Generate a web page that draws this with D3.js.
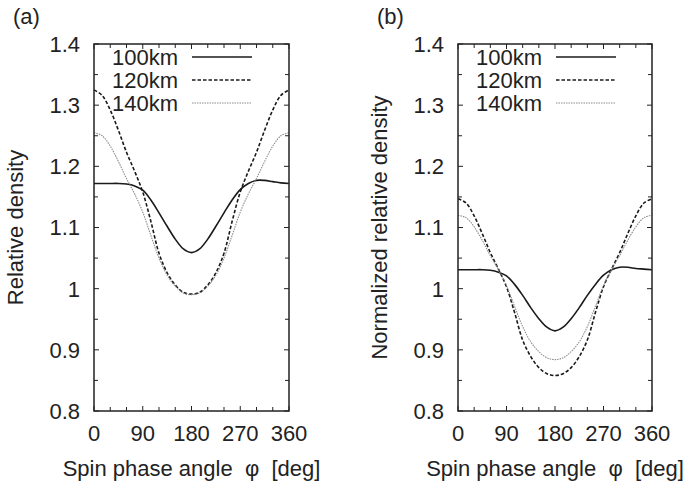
<!DOCTYPE html>
<html lang="en">
<head>
<meta charset="UTF-8">
<title>Relative density vs spin phase angle</title>
<script src="https://d3js.org/d3.v7.min.js"></script>
<style>
    body, html {
        margin: 0;
        background: #fff;
    }
    svg text {
        font-family: "Liberation Sans", Arial, sans-serif;
        fill: #222;
    }
    .frame {
        fill: none;
        stroke: #222;
        stroke-width: 1.5px;
    }
    .tick-mark {
        stroke: #222;
        stroke-width: 1px;
    }
</style>
</head>
<body>
<div id="chart"></div>
<script>
// spin phase angle samples (deg)
var phase = [0, 15, 30, 45, 60, 75, 90, 105, 120, 135, 150, 165, 180,
             195, 210, 225, 240, 255, 270, 285, 300, 315, 330, 345, 360];

// (a) relative density
var relA100 = [1.172, 1.172, 1.172, 1.172, 1.171, 1.168, 1.161, 1.145, 1.124, 1.102, 1.081, 1.065, 1.059,
               1.065, 1.081, 1.102, 1.124, 1.145, 1.162, 1.172, 1.177, 1.177, 1.175, 1.173, 1.172];
var relA120 = [1.325, 1.316, 1.292, 1.259, 1.223, 1.192, 1.158, 1.110, 1.058, 1.026, 1.006, 0.994, 0.991,
               0.994, 1.006, 1.026, 1.058, 1.110, 1.158, 1.192, 1.223, 1.259, 1.292, 1.316, 1.325];
var relA140 = [1.255, 1.250, 1.233, 1.208, 1.180, 1.155, 1.125, 1.087, 1.050, 1.022, 1.004, 0.993, 0.990,
               0.993, 1.004, 1.022, 1.050, 1.087, 1.125, 1.155, 1.180, 1.208, 1.233, 1.250, 1.255];

// (b) normalized relative density
var normB100 = [1.031, 1.031, 1.031, 1.031, 1.030, 1.027, 1.021, 1.007, 0.989, 0.969, 0.951, 0.937, 0.931,
                0.937, 0.951, 0.969, 0.989, 1.007, 1.022, 1.031, 1.035, 1.035, 1.033, 1.032, 1.031];
var normB120 = [1.147, 1.140, 1.119, 1.090, 1.059, 1.032, 1.003, 0.961, 0.916, 0.889, 0.871, 0.861, 0.858,
                0.861, 0.871, 0.889, 0.916, 0.961, 1.003, 1.032, 1.059, 1.090, 1.119, 1.140, 1.147];
var normB140 = [1.120, 1.116, 1.101, 1.079, 1.054, 1.031, 1.005, 0.971, 0.938, 0.913, 0.897, 0.887, 0.884,
                0.887, 0.897, 0.913, 0.938, 0.971, 1.005, 1.031, 1.054, 1.079, 1.101, 1.116, 1.120];

var seriesNames = ["100km", "120km", "140km"];
var xTickValues = [0, 90, 180, 270, 360];
var yTickValues = [0.8, 0.9, 1.0, 1.1, 1.2, 1.3, 1.4];

var W = 689, H = 486;
var fontSize = 22;

var svg = d3.select("#chart").append("svg")
    .attr("width", W)
    .attr("height", H);

// line styles per altitude
var styles = [
    {stroke: "#1a1a1a", width: 1.6, dash: null},
    {stroke: "#1a1a1a", width: 1.6, dash: "3.5,2"},
    {stroke: "#8c8c8c", width: 1.1, dash: "1.5,1"}
];

function drawPanel(left, right, top, bottom, tag, ylabel, seriesList) {
    var x = d3.scaleLinear().domain([0, 360]).range([left, right]);
    var y = d3.scaleLinear().domain([0.8, 1.4]).range([bottom, top]);
    var g = svg.append("g");

    // ticks on all four sides, pointing inward
    var tl = 5, tlMinor = 4;
    d3.range(0, 361, 30).forEach(function(v) {
        var len = (v % 90 === 0) ? tl : tlMinor;
        g.append("line").attr("class", "tick-mark")
            .attr("x1", x(v)).attr("x2", x(v))
            .attr("y1", bottom).attr("y2", bottom - len);
        g.append("line").attr("class", "tick-mark")
            .attr("x1", x(v)).attr("x2", x(v))
            .attr("y1", top).attr("y2", top + len);
    });
    d3.range(0, 13).forEach(function(i) {
        var v = 0.8 + i * 0.05;
        var len = (i % 2 === 0) ? tl : tlMinor;
        g.append("line").attr("class", "tick-mark")
            .attr("x1", left).attr("x2", left + len)
            .attr("y1", y(v)).attr("y2", y(v));
        g.append("line").attr("class", "tick-mark")
            .attr("x1", right).attr("x2", right - len)
            .attr("y1", y(v)).attr("y2", y(v));
    });

    // tick labels
    g.selectAll("text.xt").data(xTickValues).enter().append("text")
        .attr("x", function(d) { return x(d); })
        .attr("y", bottom + 30)
        .attr("text-anchor", "middle")
        .style("font-size", fontSize + "px")
        .text(function(d) { return d; });
    g.selectAll("text.yt").data(yTickValues).enter().append("text")
        .attr("x", left - 14)
        .attr("y", function(d) { return y(d); })
        .attr("dy", "0.36em")
        .attr("text-anchor", "end")
        .style("font-size", fontSize + "px")
        .text(function(d) { return d3.format("~g")(d); });

    // curves
    var line = d3.line()
        .x(function(d) { return x(d[0]); })
        .y(function(d) { return y(d[1]); })
        .curve(d3.curveCatmullRom.alpha(0.5));
    seriesList.forEach(function(vals, i) {
        var pts = phase.map(function(p, j) { return [p, vals[j]]; });
        g.append("path")
            .attr("d", line(pts))
            .attr("fill", "none")
            .attr("stroke", styles[i].stroke)
            .attr("stroke-width", styles[i].width)
            .attr("stroke-dasharray", styles[i].dash);
    });

    // legend
    seriesNames.forEach(function(name, i) {
        var cy = top + 13 + i * 23;
        g.append("text")
            .attr("x", left + 84)
            .attr("y", cy)
            .attr("dy", "0.36em")
            .attr("text-anchor", "end")
            .style("font-size", fontSize + "px")
            .text(name);
        g.append("line")
            .attr("x1", left + 98).attr("x2", left + 158)
            .attr("y1", cy).attr("y2", cy)
            .attr("stroke", styles[i].stroke)
            .attr("stroke-width", styles[i].width)
            .attr("stroke-dasharray", styles[i].dash);
    });

    // frame
    g.append("rect").attr("class", "frame")
        .attr("x", left).attr("y", top)
        .attr("width", right - left).attr("height", bottom - top);

    // axis titles
    g.append("text")
        .attr("x", (left + right) / 2)
        .attr("y", bottom + 65)
        .attr("text-anchor", "middle")
        .style("font-size", fontSize + "px")
        .text("Spin phase angle\u00a0\u00a0\u03c6\u00a0\u00a0[deg]");
    g.append("text")
        .attr("transform", "translate(" + (left - 71) + "," + ((top + bottom) / 2) + ") rotate(-90)")
        .attr("text-anchor", "middle")
        .style("font-size", fontSize + "px")
        .text(ylabel);

    // panel tag
    g.append("text")
        .attr("x", left - 81)
        .attr("y", 24)
        .style("font-size", fontSize + "px")
        .text(tag);
}

drawPanel(94, 289, 44, 411, "(a)", "Relative density", [relA100, relA120, relA140]);
drawPanel(458, 652, 44, 411, "(b)", "Normalized relative density", [normB100, normB120, normB140]);
</script>
</body>
</html>
